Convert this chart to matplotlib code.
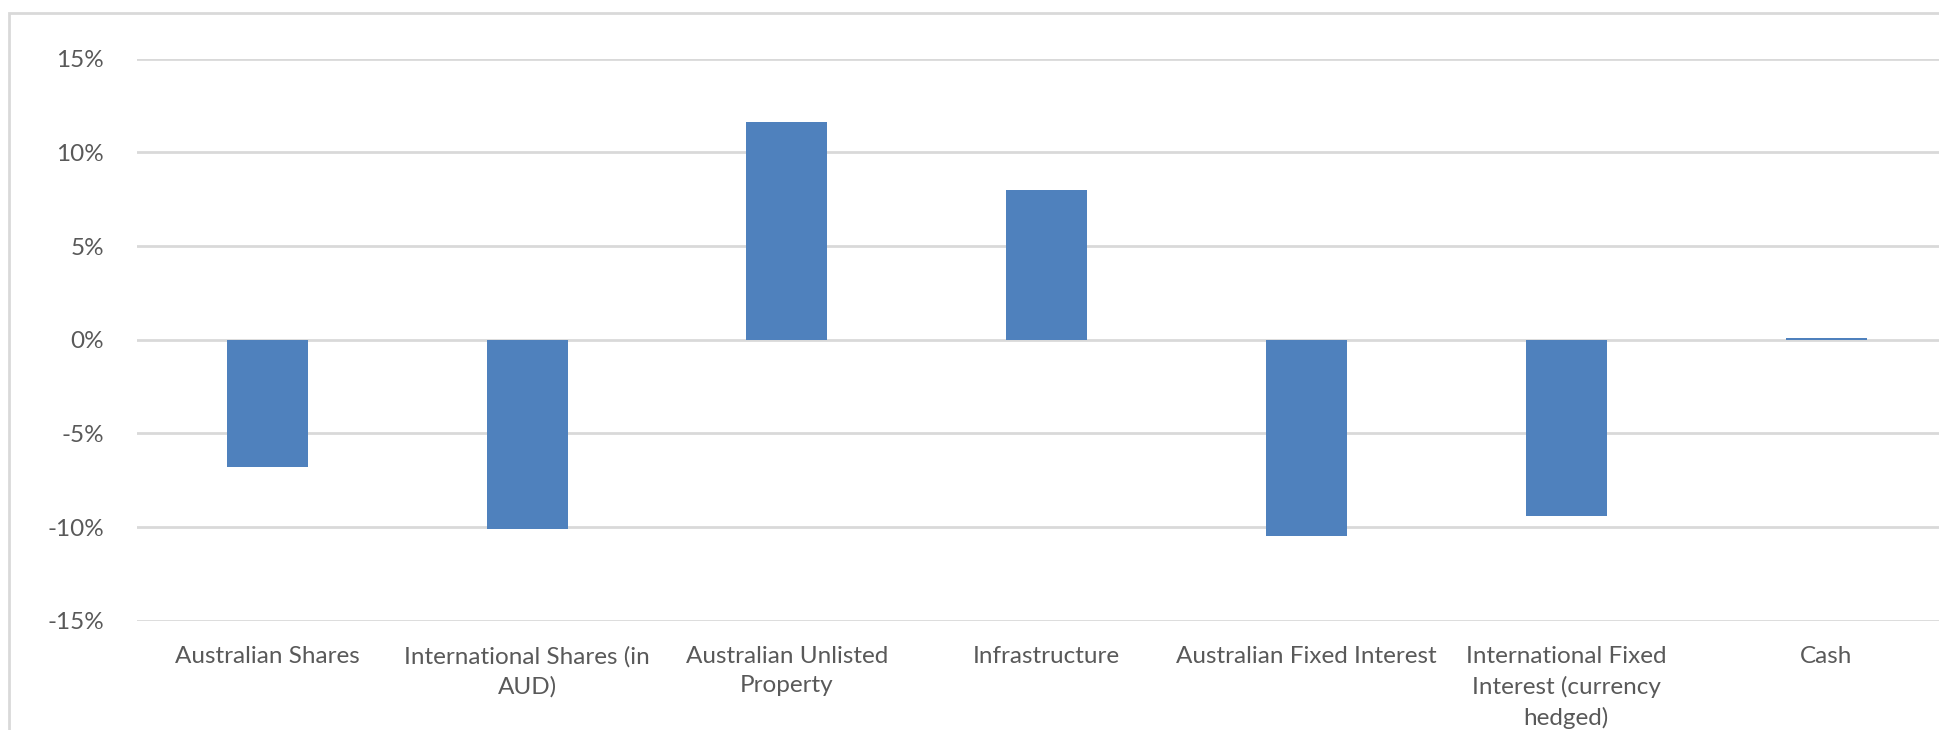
"""plot.py — asset class returns bar chart (Excel-style column chart)."""
import matplotlib
matplotlib.use("Agg")
import matplotlib.pyplot as plt
from matplotlib.patches import Rectangle
from matplotlib.ticker import FuncFormatter

categories = [
    "Australian Shares",
    "International Shares (in\nAUD)",
    "Australian Unlisted\nProperty",
    "Infrastructure",
    "Australian Fixed Interest",
    "International Fixed\nInterest (currency\nhedged)",
    "Cash",
]
returns = [-6.8, -10.1, 11.6, 8.0, -10.5, -9.4, 0.1]
y_ticks = [-15, -10, -5, 0, 5, 10, 15]

BLUE = "#4F81BD"
GRID = "#D9D9D9"
TEXT = "#595959"

plt.rcParams["font.family"] = ["Lato", "DejaVu Sans"]

fig = plt.figure(figsize=(19.4, 7.3), dpi=100)
W, H = 1940, 730
# plot area runs slightly past the right edge, like the cropped original
ax = fig.add_axes([137.5 / W, 1 - 620.8 / H, (1956 - 137.5) / W, (620.8 - 58.6) / H])

x = range(len(categories))
ax.bar(x, returns, width=0.312, color=BLUE, zorder=3)

ax.set_ylim(-15, 15)
ax.set_xlim(-0.5, len(categories) - 0.5)
ax.set_yticks(y_ticks)
ax.yaxis.set_major_formatter(FuncFormatter(lambda v, _: f"{v:.0f}%"))
ax.set_xticks(list(x))
ax.set_xticklabels(categories, linespacing=1.5)
ax.grid(axis="y", color=GRID, linewidth=2, zorder=0)
ax.tick_params(axis="both", length=0, labelsize=17.5, labelcolor=TEXT)
ax.tick_params(axis="y", pad=24)
ax.tick_params(axis="x", pad=18)
for s in ax.spines.values():
    s.set_visible(False)

# outer chart border (right and bottom edges fall outside the crop)
fig.patches.append(Rectangle((9 / W, -0.1), 1.2, 1.1 - 13 / H, transform=fig.transFigure,
                             fill=False, edgecolor=GRID, linewidth=2))

fig.savefig("out.png", dpi=100)
